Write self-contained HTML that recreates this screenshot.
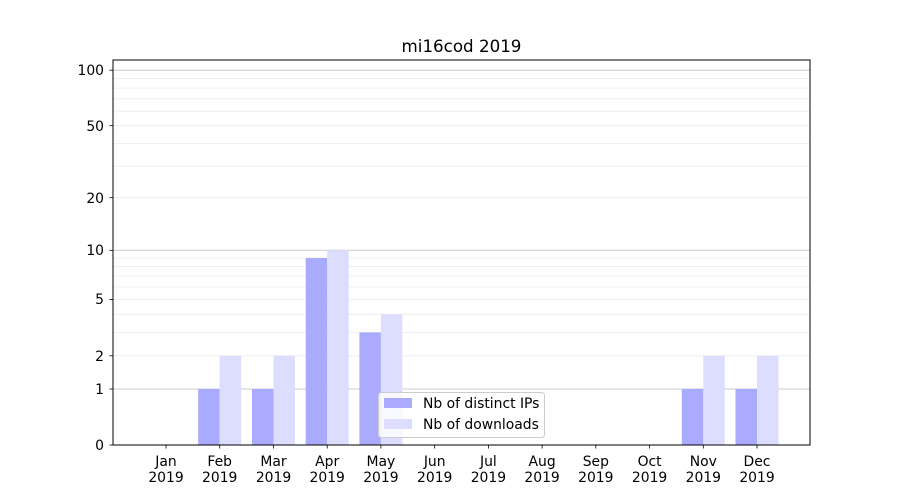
<!DOCTYPE html>
<html><head><meta charset="utf-8"><style>body{margin:0;background:#fff}svg{display:block}</style></head><body>
<svg width="900" height="500" xmlns="http://www.w3.org/2000/svg" font-family="DejaVu Sans, Liberation Sans, sans-serif">
<rect width="900" height="500" fill="#fff"/>
<g stroke="#ececec" stroke-width="0.8">
<line x1="113" x2="810" y1="355.8" y2="355.8"/><line x1="113" x2="810" y1="332.4" y2="332.4"/><line x1="113" x2="810" y1="314.3" y2="314.3"/><line x1="113" x2="810" y1="299.5" y2="299.5"/><line x1="113" x2="810" y1="287" y2="287"/><line x1="113" x2="810" y1="276.1" y2="276.1"/><line x1="113" x2="810" y1="266.6" y2="266.6"/><line x1="113" x2="810" y1="258" y2="258"/>
<line x1="113" x2="810" y1="197.7" y2="197.7"/><line x1="113" x2="810" y1="166.1" y2="166.1"/><line x1="113" x2="810" y1="143.4" y2="143.4"/><line x1="113" x2="810" y1="125.7" y2="125.7"/><line x1="113" x2="810" y1="111.2" y2="111.2"/><line x1="113" x2="810" y1="98.8" y2="98.8"/><line x1="113" x2="810" y1="88.1" y2="88.1"/><line x1="113" x2="810" y1="78.6" y2="78.6"/>
</g>
<g stroke="#cccccc" stroke-width="1">
<line x1="113" x2="810" y1="389" y2="389"/><line x1="113" x2="810" y1="250.3" y2="250.3"/><line x1="113" x2="810" y1="70.2" y2="70.2"/>
</g>
<g fill="#aaaaff">
<rect x="198.2" y="389" width="21.5" height="56"/>
<rect x="252" y="389" width="21.5" height="56"/>
<rect x="305.7" y="258" width="21.5" height="187"/>
<rect x="359.4" y="332.4" width="21.5" height="112.6"/>
<rect x="681.8" y="389" width="21.5" height="56"/>
<rect x="735.5" y="389" width="21.5" height="56"/>
</g>
<g fill="#ddddff">
<rect x="219.7" y="355.8" width="21.5" height="89.2"/>
<rect x="273.5" y="355.8" width="21.5" height="89.2"/>
<rect x="327.2" y="250.3" width="21.5" height="194.7"/>
<rect x="380.9" y="314.3" width="21.5" height="130.7"/>
<rect x="703.3" y="355.8" width="21.5" height="89.2"/>
<rect x="757" y="355.8" width="21.5" height="89.2"/>
</g>
<rect x="113" y="60" width="697" height="385" fill="none" stroke="#000" stroke-width="1"/>
<g stroke="#000" stroke-width="0.8">
<line x1="109.5" x2="113" y1="445" y2="445"/><line x1="109.5" x2="113" y1="389" y2="389"/><line x1="109.5" x2="113" y1="355.8" y2="355.8"/><line x1="109.5" x2="113" y1="299.5" y2="299.5"/><line x1="109.5" x2="113" y1="250.3" y2="250.3"/><line x1="109.5" x2="113" y1="197.7" y2="197.7"/><line x1="109.5" x2="113" y1="125.7" y2="125.7"/><line x1="109.5" x2="113" y1="70.2" y2="70.2"/>
</g>
<g font-size="13.9" text-anchor="end" fill="#000">
<text x="104" y="450">0</text><text x="104" y="394">1</text><text x="104" y="361">2</text><text x="104" y="304">5</text><text x="104" y="255">10</text><text x="104" y="203">20</text><text x="104" y="131">50</text><text x="104" y="75">100</text>
</g>
<g font-size="13.9" text-anchor="middle" fill="#000">
<text x="166" y="466">Jan</text><text x="166" y="482">2019</text>
<text x="219.7" y="466">Feb</text><text x="219.7" y="482">2019</text>
<text x="273.5" y="466">Mar</text><text x="273.5" y="482">2019</text>
<text x="327.2" y="466">Apr</text><text x="327.2" y="482">2019</text>
<text x="380.9" y="466">May</text><text x="380.9" y="482">2019</text>
<text x="434.7" y="466">Jun</text><text x="434.7" y="482">2019</text>
<text x="488.4" y="466">Jul</text><text x="488.4" y="482">2019</text>
<text x="542.1" y="466">Aug</text><text x="542.1" y="482">2019</text>
<text x="595.8" y="466">Sep</text><text x="595.8" y="482">2019</text>
<text x="649.6" y="466">Oct</text><text x="649.6" y="482">2019</text>
<text x="703.3" y="466">Nov</text><text x="703.3" y="482">2019</text>
<text x="757" y="466">Dec</text><text x="757" y="482">2019</text>
</g>
<g stroke="#000" stroke-width="0.8">
<line x1="166" x2="166" y1="445" y2="448.5"/><line x1="219.7" x2="219.7" y1="445" y2="448.5"/><line x1="273.5" x2="273.5" y1="445" y2="448.5"/><line x1="327.2" x2="327.2" y1="445" y2="448.5"/><line x1="380.9" x2="380.9" y1="445" y2="448.5"/><line x1="434.7" x2="434.7" y1="445" y2="448.5"/><line x1="488.4" x2="488.4" y1="445" y2="448.5"/><line x1="542.1" x2="542.1" y1="445" y2="448.5"/><line x1="595.8" x2="595.8" y1="445" y2="448.5"/><line x1="649.6" x2="649.6" y1="445" y2="448.5"/><line x1="703.3" x2="703.3" y1="445" y2="448.5"/><line x1="757" x2="757" y1="445" y2="448.5"/>
</g>
<text x="461.5" y="52" font-size="16.7" text-anchor="middle">mi16cod 2019</text>
<rect x="378.5" y="392.5" width="166" height="45" rx="3" fill="#fff" fill-opacity="0.8" stroke="#cccccc"/>
<rect x="384" y="398" width="28" height="10" fill="#aaaaff"/>
<rect x="384" y="419" width="28" height="10" fill="#ddddff"/>
<text x="423" y="408" font-size="13.9">Nb of distinct IPs</text>
<text x="423" y="429" font-size="13.9">Nb of downloads</text>
</svg>
</body></html>
